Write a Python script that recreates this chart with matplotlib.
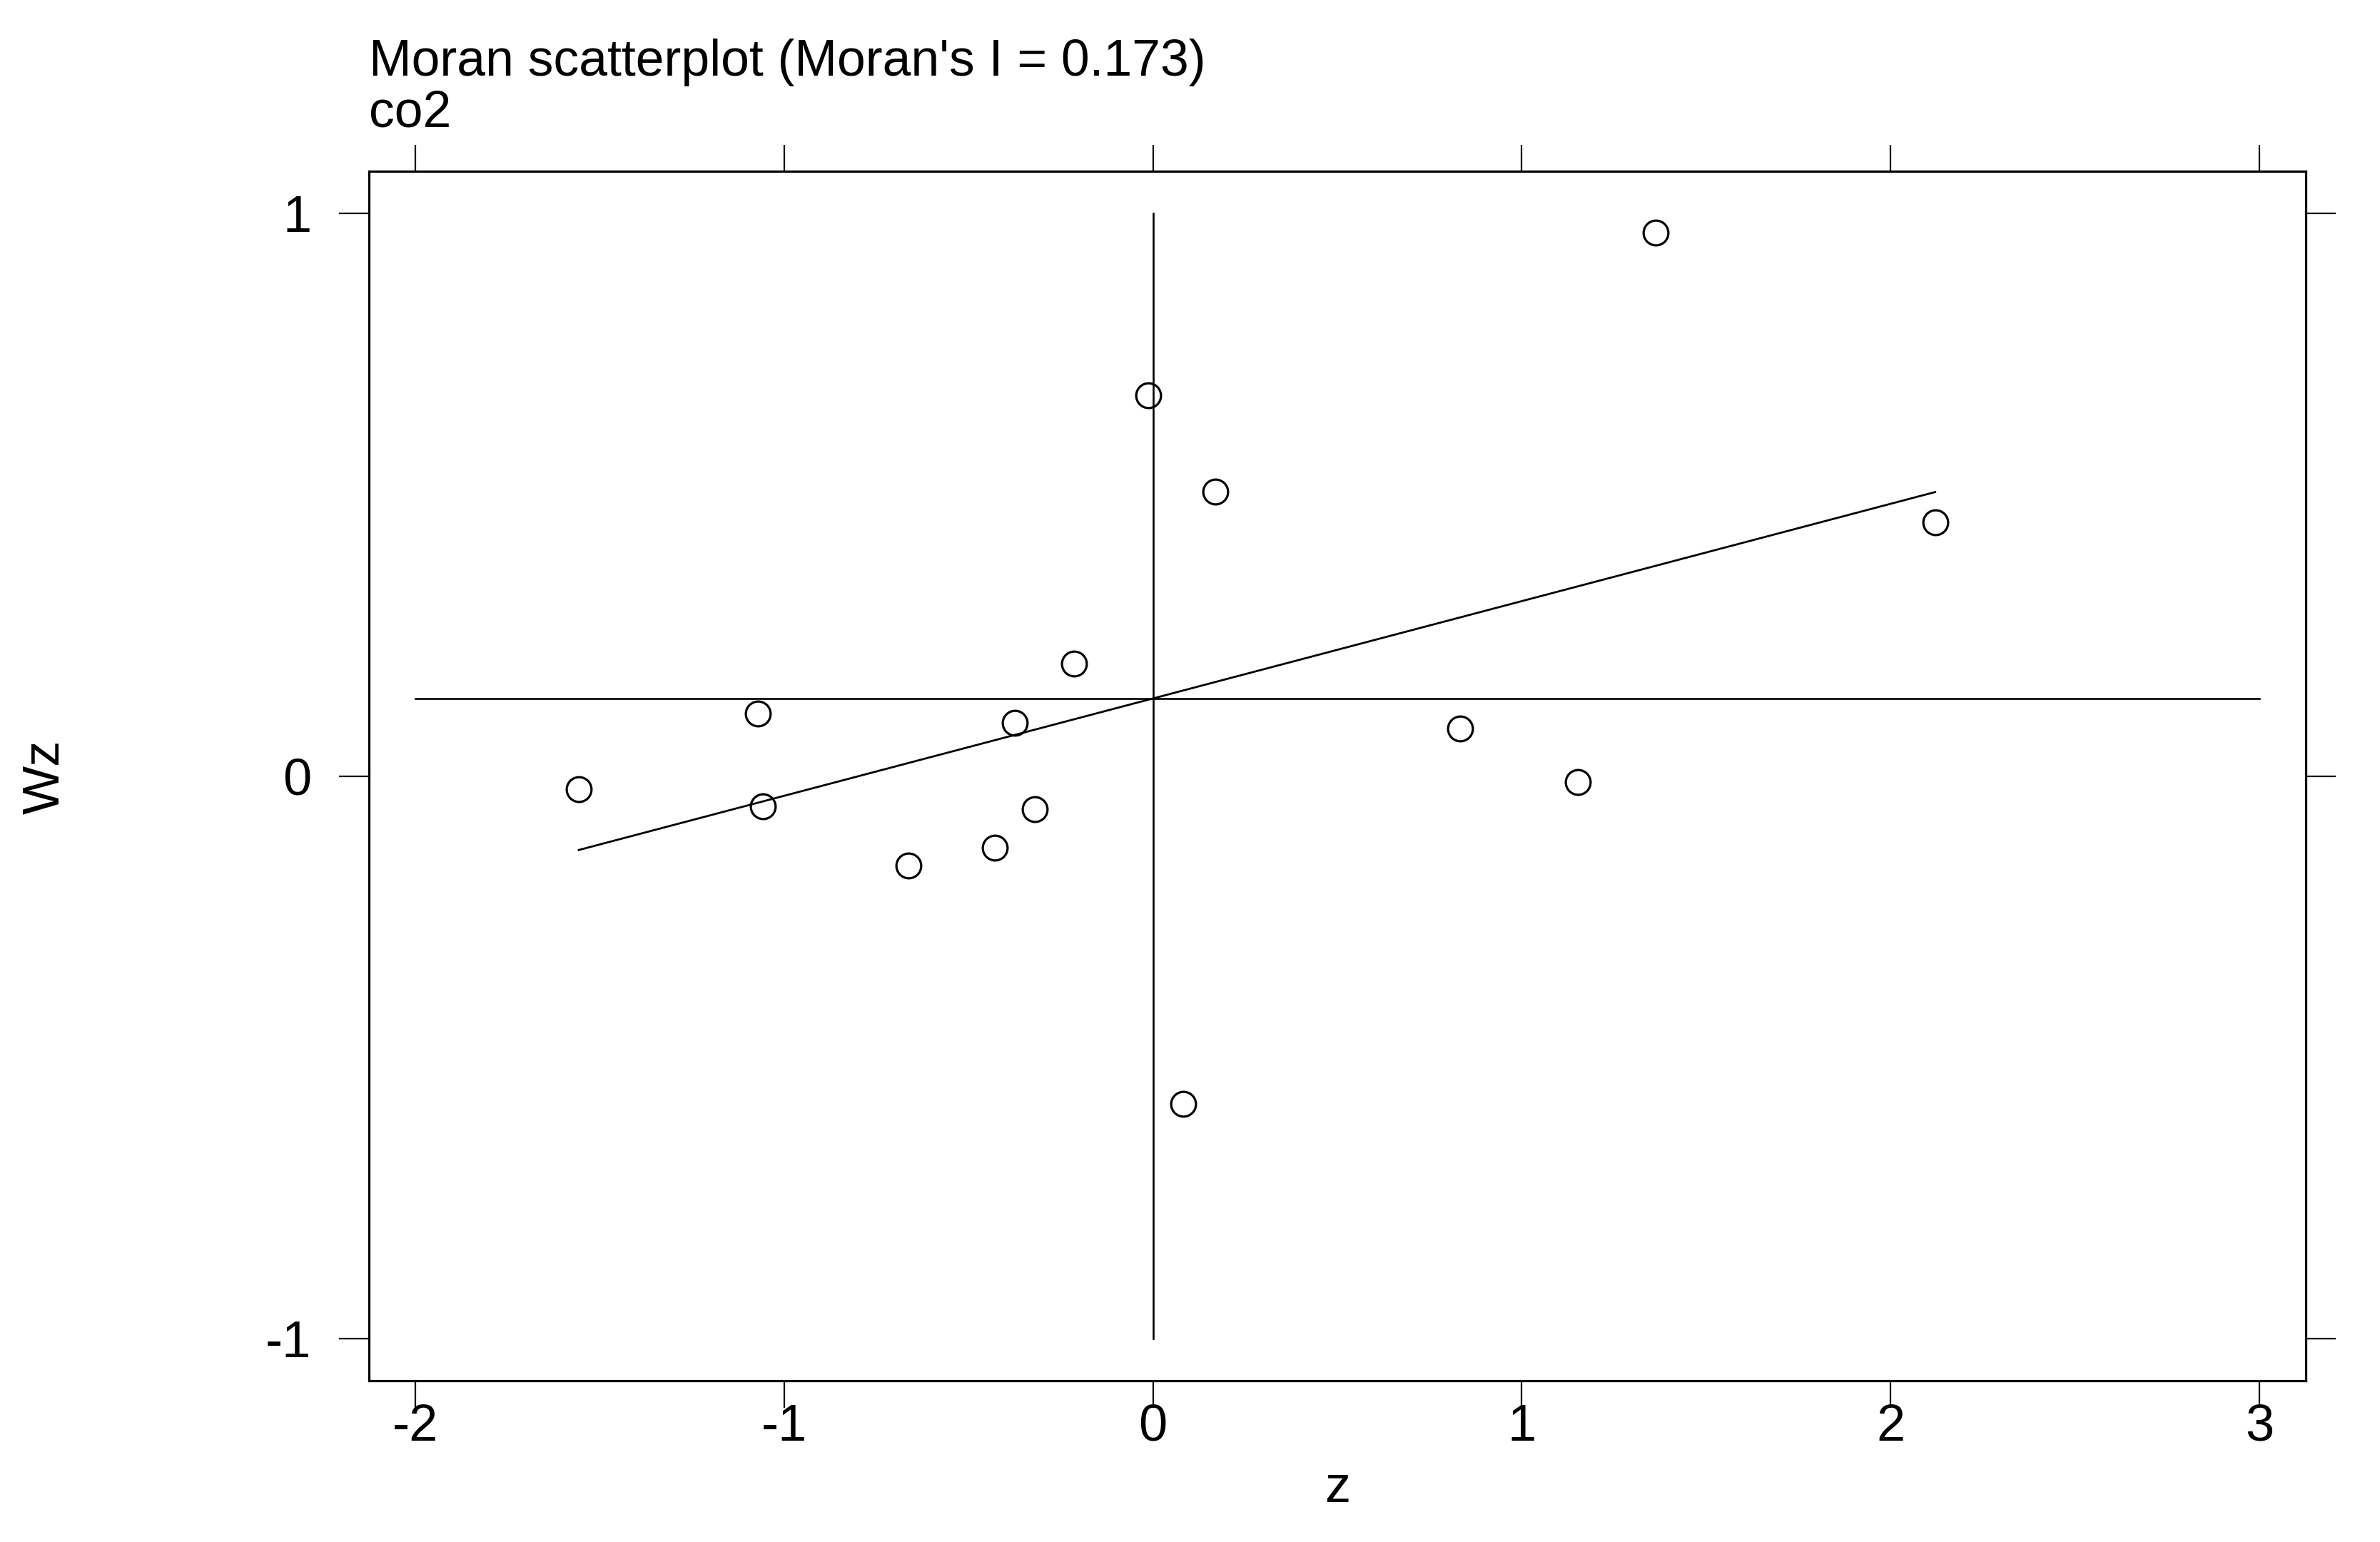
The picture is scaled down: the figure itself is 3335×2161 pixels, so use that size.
import numpy as np
import matplotlib
matplotlib.use("Agg")
import matplotlib.pyplot as plt

plt.rcParams['font.family'] = ['Liberation Sans', 'DejaVu Sans']
plt.rcParams['axes.unicode_minus'] = False

# === data ===
z = [-1.557, -1.071, -1.058, -0.663, -0.428, -0.375, -0.321, -0.214,
     -0.012, 0.169, 0.082, 0.832, 1.153, 1.363, 2.121]
wz = [-0.024, 0.111, -0.054, -0.159, -0.127, 0.094, -0.059, 0.200,
      0.677, 0.505, -0.583, 0.084, -0.011, 0.966, 0.451]
moran_i = 0.173
x_ticks = [-2, -1, 0, 1, 2, 3]
y_ticks = [-1, 0, 1]
title = "Moran scatterplot (Moran's I = 0.173)"
subtitle = "co2"

z = np.array(z)
wz = np.array(wz)
z_mean = z.mean()
wz_mean = wz.mean()
intercept = wz_mean - moran_i * z_mean

W, H, DPI = 3335, 2161, 100
fig = plt.figure(figsize=(W / DPI, H / DPI), dpi=DPI)
ax = fig.add_axes([517 / W, 1 - 1935 / H, (3231 - 517) / W, (1935 - 240) / H])

# reference lines at the means
ax.plot([x_ticks[0], x_ticks[-1]], [wz_mean, wz_mean], "-k", lw=1.9)
ax.plot([z_mean, z_mean], [y_ticks[0], y_ticks[-1]], "-k", lw=1.9)

# fitted line over z range
zz = np.array([z.min(), z.max()])
ax.plot(zz, intercept + moran_i * zz, "-k", lw=2.0)

ax.plot(z, wz, "o", mfc="none", mec="k", ms=25, mew=2.3)

ax.set_xlim(-2.126, 3.126)
ax.set_ylim(-1.075, 1.075)
ax.set_xticks(x_ticks)
ax.set_yticks(y_ticks)
ax.set_xticklabels([str(t) for t in x_ticks])
ax.set_yticklabels([str(t) for t in y_ticks])

for s in ax.spines.values():
    s.set_linewidth(2.3)

ax.tick_params(axis="both", which="both", direction="out", top=True, right=True,
               labeltop=False, labelright=False, width=1.6, labelsize=52)
ax.tick_params(axis="x", length=27, pad=-4)
ax.tick_params(axis="y", length=30, pad=28)

fig.text(517 / W, 1 - 106 / H, title, fontsize=51.5, ha="left", va="baseline")
fig.text(517 / W, 1 - 177 / H, subtitle, fontsize=51.5, ha="left", va="baseline")
fig.text(1874 / W, 1 - 2105 / H, "z", fontsize=52, ha="center", va="baseline")
fig.text(64 / W, 1 - 1089 / H, "Wz", fontsize=52, ha="center", va="center",
         rotation=90)

fig.savefig("out.png", dpi=DPI, facecolor="white")
